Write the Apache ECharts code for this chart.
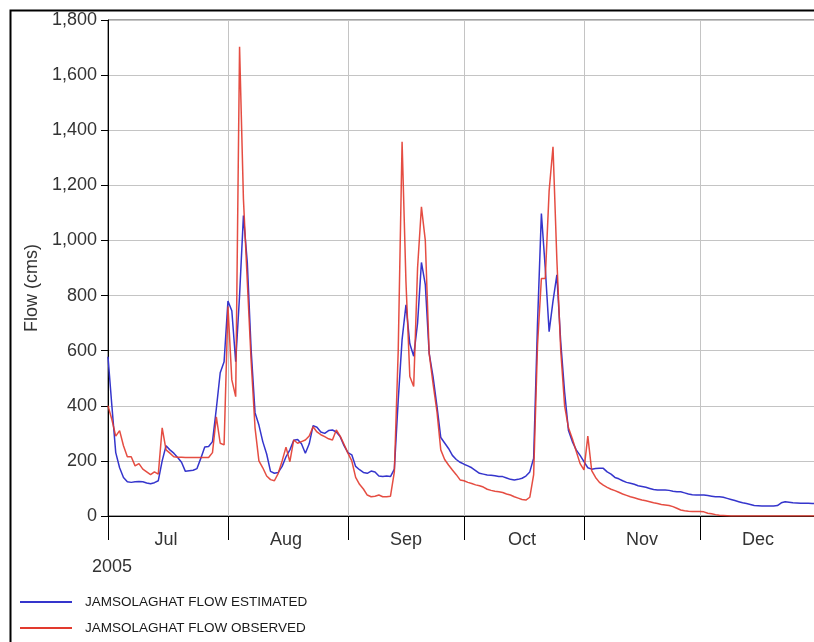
<!DOCTYPE html>
<html>
<head>
<meta charset="utf-8">
<title>Jamsolaghat flow 2005</title>
<script src="https://cdn.jsdelivr.net/npm/echarts@6/dist/echarts.min.js"></script>
<style>
  html, body { margin: 0; padding: 0; background: #ffffff; overflow: hidden; }
  /* the plot runs on past the right edge of the window, to the end of December */
  #chart { width: 840px; height: 642px; }
</style>
</head>
<body>
<div id="chart"></div>
<script>
// Months shown on the time axis (July–December 2005)
const year = 2005;
const monthNames = ['Jul', 'Aug', 'Sep', 'Oct', 'Nov', 'Dec'];
const monthNumbers = [7, 8, 9, 10, 11, 12];
const monthDays = [31, 31, 30, 31, 30, 31];

// y-axis range and step
const yMin = 0;
const yMax = 1800;
const yStep = 200;

const seriesNames = ['JAMSOLAGHAT FLOW ESTIMATED', 'JAMSOLAGHAT FLOW OBSERVED'];

// Daily estimated flow (cms), 1 Jul – 31 Dec
const estimated = [
  // Jul
  578, 400, 230, 175, 140, 124, 122, 124, 125, 124, 120, 117, 121, 128, 200, 255,
  240, 228, 212, 195, 162, 164, 166, 172, 210, 250, 252, 270, 390, 520, 560,
  // Aug
  780, 745, 560, 800, 1090, 920, 600, 375, 330, 270, 225, 162, 155, 158, 180, 215,
  240, 275, 278, 262, 228, 262, 328, 322, 305, 300, 310, 312, 305, 288, 255,
  // Sep
  230, 222, 180, 168, 158, 155, 163, 160, 145, 143, 145, 143, 170, 420, 640,
  766, 625, 580, 700, 920, 840, 590, 506, 400, 285, 265, 245, 220, 205, 195,
  // Oct
  188, 182, 175, 165, 155, 152, 149, 148, 146, 143, 143, 138, 133, 131, 133, 137,
  145, 160, 210, 700, 1098, 900, 669, 780, 875, 630, 450, 310, 270, 240, 220,
  // Nov
  197, 175, 170, 172, 173, 173, 160, 152, 140, 135, 128, 122, 119, 115, 110,
  107, 104, 100, 96, 94, 94, 94, 93, 90, 88, 88, 84, 80, 77, 76,
  // Dec
  76, 76, 74, 72, 70, 70, 68, 64, 60, 56, 52, 48, 45, 42, 38, 37,
  36, 36, 36, 36, 38, 48, 52, 50, 48, 47, 46, 46, 46, 45, 45
];

// Daily observed flow (cms), 1 Jul – 31 Dec
const observed = [
  // Jul
  400, 350, 290, 310, 255, 215, 215, 182, 190, 170, 160, 150, 160, 152, 320, 240,
  228, 215, 213, 213, 212, 212, 212, 212, 212, 212, 212, 230, 360, 264, 258,
  // Aug
  760, 494, 433, 1703, 1150, 850, 560, 320, 200, 175, 145, 132, 128, 155, 200, 250,
  197, 276, 264, 270, 276, 290, 324, 305, 295, 288, 280, 276, 312, 290, 260,
  // Sep
  228, 200, 140, 115, 98, 76, 70, 72, 76, 70, 70, 72, 160, 600, 1358,
  850, 506, 470, 900, 1122, 1000, 590, 480, 380, 240, 205, 185, 167, 150, 131,
  // Oct
  128, 122, 118, 113, 110, 105, 97, 93, 90, 88, 85, 80, 76, 70, 65, 60,
  58, 68, 150, 620, 862, 862, 1180, 1340, 930, 600, 400, 320, 280, 235, 190,
  // Nov
  167, 290, 165, 140, 122, 112, 104, 97, 92, 86, 80, 75, 70, 66, 62,
  58, 55, 52, 48, 45, 42, 40, 38, 34, 28, 22, 19, 17, 16, 16,
  // Dec
  16, 15, 10, 8, 5, 3, 2, 1, 0, 0, 0, 0, 0, 0, 0, 0,
  0, 0, 0, 0, 0, 0, 0, 0, 0, 0, 0, 0, 0, 0, 0
];

// Build one category per day, plus 1 Jan of the next year to close the last month
const pad = n => (n < 10 ? '0' + n : '' + n);
const days = [];
const monthStartIdx = new Set();
const monthMidIdx = {};
monthNames.forEach((name, m) => {
  monthStartIdx.add(days.length);
  monthMidIdx[days.length + 15] = name;
  for (let d = 1; d <= monthDays[m]; d++) {
    days.push(year + '-' + pad(monthNumbers[m]) + '-' + pad(d));
  }
});
monthStartIdx.add(days.length);
days.push((year + 1) + '-01-01');

const fontFamily = '"Liberation Sans", Arial, Helvetica, sans-serif';
const blue = '#3535cc';
const red = '#e23a2e';
const axisText = '#333333';

const chart = echarts.init(document.getElementById('chart'), null, { renderer: 'canvas' });

chart.setOption({
  animation: false,
  backgroundColor: '#ffffff',
  textStyle: { fontFamily: fontFamily },
  grid: {
    left: 108,
    top: 20,
    width: 712,
    height: 496,
    show: true,
    borderColor: '#444444',
    borderWidth: 1,
    containLabel: false
  },
  xAxis: {
    type: 'category',
    data: days,
    boundaryGap: false,
    axisLine: { show: true, lineStyle: { color: '#000000', width: 1 } },
    axisTick: {
      show: true,
      inside: false,
      length: 24,
      interval: idx => monthStartIdx.has(idx),
      lineStyle: { color: '#000000', width: 1 }
    },
    axisLabel: {
      interval: idx => monthMidIdx[idx] !== undefined,
      formatter: (value, idx) => monthMidIdx[idx] || '',
      margin: 15,
      fontSize: 18,
      color: axisText,
      fontFamily: fontFamily
    },
    splitLine: {
      show: true,
      interval: idx => monthStartIdx.has(idx) && idx > 0,
      lineStyle: { color: '#c4c4c4', width: 1 }
    }
  },
  yAxis: {
    type: 'value',
    min: yMin,
    max: yMax,
    interval: yStep,
    name: 'Flow (cms)',
    nameLocation: 'middle',
    nameRotate: 90,
    nameGap: 67,
    nameTextStyle: {
      fontSize: 18,
      color: axisText,
      fontFamily: fontFamily,
      padding: [0, 40, 0, 0]
    },
    axisLine: { show: true, lineStyle: { color: '#000000', width: 1 } },
    axisTick: { show: true, length: 7, lineStyle: { color: '#000000' } },
    axisLabel: {
      margin: 11,
      fontSize: 18,
      color: axisText,
      fontFamily: fontFamily,
      formatter: v => v.toLocaleString('en-US')
    },
    splitLine: { show: true, lineStyle: { color: '#c4c4c4', width: 1 } }
  },
  legend: {
    orient: 'vertical',
    left: 15,
    top: 590,
    itemWidth: 52,
    itemHeight: 2,
    itemGap: 12,
    icon: 'rect',
    data: seriesNames,
    textStyle: {
      fontSize: 13.5,
      color: '#1a1a1a',
      fontFamily: fontFamily,
      padding: [0, 0, 0, 8]
    }
  },
  graphic: [
    {
      type: 'rect',
      shape: { x: 10.5, y: 10.5, width: 900, height: 700 },
      style: { fill: 'none', stroke: '#000000', lineWidth: 2 },
      silent: true
    },
    {
      type: 'text',
      left: 92,
      top: 558,
      style: { text: String(year), fontSize: 18, fill: axisText, fontFamily: fontFamily }
    }
  ],
  series: [
    {
      name: seriesNames[0],
      type: 'line',
      data: estimated,
      symbol: 'none',
      lineStyle: { color: blue, width: 1.5 },
      itemStyle: { color: blue },
      z: 2
    },
    {
      name: seriesNames[1],
      type: 'line',
      data: observed,
      symbol: 'none',
      lineStyle: { color: red, width: 1.5, opacity: 0.9 },
      itemStyle: { color: red },
      z: 3
    }
  ]
});
</script>
</body>
</html>
